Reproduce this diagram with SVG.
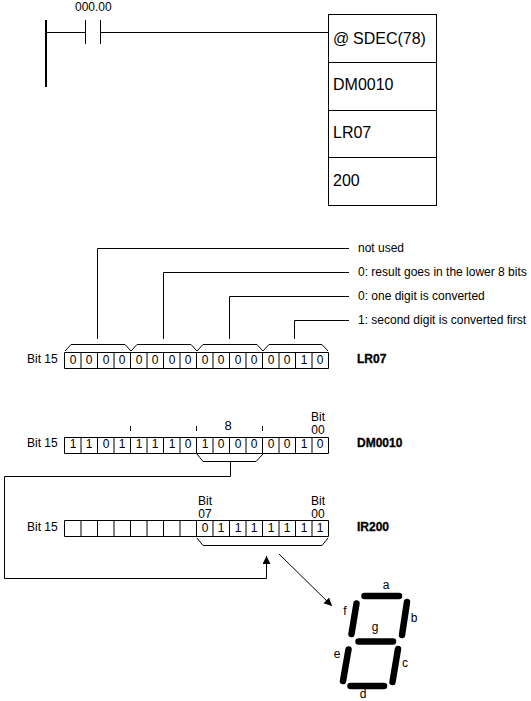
<svg xmlns="http://www.w3.org/2000/svg" width="531" height="701" viewBox="0 0 531 701">
<defs>
<style>
text{font-family:"Liberation Sans",Arial,sans-serif;fill:#000}
.l{fill:none;stroke:#000;stroke-width:1}
.t11{font-size:12px}
.t16{font-size:16px}
.b{font-size:12px;font-weight:bold;stroke:#000;stroke-width:.3px}
.c{font-size:12px;text-anchor:middle}
.m{text-anchor:middle}
.seg{stroke:#000;stroke-width:6.500;stroke-linecap:round;fill:none}
</style>
<marker id="ah" markerUnits="userSpaceOnUse" markerWidth="10" markerHeight="10" refX="8" refY="4" orient="auto"><path d="M0,0L8,4L0,8z" fill="#000"/></marker>
<path id="cells" d="M64.5,.5H328.5V16.5H64.5ZM81,.5V16.5M97.5,.5V16.5M114,.5V16.5M130.5,.5V16.5M147,.5V16.5M163.5,.5V16.5M180,.5V16.5M196.5,.5V16.5M213,.5V16.5M229.5,.5V16.5M246,.5V16.5M262.5,.5V16.5M279,.5V16.5M295.5,.5V16.5M312,.5V16.5" fill="#fff" stroke="#000"/>
</defs>
<rect width="531" height="701" fill="#fff"/>
<g id="connectors">
<path class="l" d="M46,32.500H85.500M100.500,32.500H328"/>
<path class="l" d="M97.500,339V248.500H349M163.500,339V272.500H349M229.500,339V296.500H349M294.500,339V320.500H349"/>
<path class="l" d="M230.500,461V476.500H4.500V578.500H266.500V556" marker-end="url(#ah)"/>
<path class="l" d="M279,554L332,606" marker-end="url(#ah)"/>
</g>
<g id="rung"><rect x="45" y="20" width="2" height="67" fill="#000"/></g>
<g id="contact"><path class="l" d="M85.500,20V44M100.500,20V44"/><text class="t11" x="75" y="11">000.00</text></g>
<g id="instruction">
<rect class="l" x="328.500" y="14.500" width="108" height="191"/>
<path class="l" d="M328,62.500H437M328,110.500H437M328,157.500H437"/>
<text class="t16" x="333" y="44">@</text><text class="t16" x="353" y="44">SDEC(78)</text>
<text class="t16" x="333" y="90">DM0010</text>
<text class="t16" x="333" y="138">LR07</text>
<text class="t16" x="333" y="186">200</text>
</g>
<g id="lr07">
<text class="t11" x="358" y="252">not used</text>
<text class="t11" x="358" y="276">0: result goes in the lower 8 bits</text>
<text class="t11" x="358" y="300">0: one digit is converted</text>
<text class="t11" x="358" y="324">1: second digit is converted first</text>
<path class="l" d="M65,351L71,344.500H125L131,351L137,344.500H191L197,351L203,344.500H257L263,351L269,344.500H322L328,351"/>
<use href="#cells" y="352"/>
<text class="t11" x="27" y="363">Bit 15</text>
<g class="c"><text x="73" y="364">0</text><text x="89" y="364">0</text><text x="106" y="364">0</text><text x="122" y="364">0</text><text x="139" y="364">0</text><text x="155" y="364">0</text><text x="172" y="364">0</text><text x="188" y="364">0</text><text x="205" y="364">0</text><text x="221" y="364">0</text><text x="238" y="364">0</text><text x="254" y="364">0</text><text x="271" y="364">0</text><text x="287" y="364">0</text><text x="304" y="364">1</text><text x="320" y="364">0</text></g>
<text class="b" x="357" y="363">LR07</text>
</g>
<g id="dm0010">
<path class="l" d="M130.500,426V431M196.500,426V431M262.500,426V431"/>
<text class="t11 m" x="228" y="430" style="font-size:13px">8</text>
<text class="t11 m" x="318" y="421">Bit</text><text class="t11 m" x="318" y="434">00</text>
<use href="#cells" y="437"/>
<text class="t11" x="27" y="447">Bit 15</text>
<g class="c"><text x="73" y="448">1</text><text x="89" y="448">1</text><text x="106" y="448">0</text><text x="122" y="448">1</text><text x="139" y="448">1</text><text x="155" y="448">1</text><text x="172" y="448">1</text><text x="188" y="448">0</text><text x="205" y="448">1</text><text x="221" y="448">0</text><text x="238" y="448">0</text><text x="254" y="448">0</text><text x="271" y="448">0</text><text x="287" y="448">0</text><text x="304" y="448">1</text><text x="320" y="448">0</text></g>
<path class="l" d="M197,454L203,461.500H256L263,454"/>
<text class="b" x="357" y="447">DM0010</text>
</g>
<g id="ir200">
<text class="t11 m" x="205" y="505">Bit</text><text class="t11 m" x="205" y="518">07</text>
<text class="t11 m" x="318" y="505">Bit</text><text class="t11 m" x="318" y="518">00</text>
<use href="#cells" y="520"/>
<text class="t11" x="27" y="531">Bit 15</text>
<g class="c"><text x="205" y="532">0</text><text x="221" y="532">1</text><text x="238" y="532">1</text><text x="254" y="532">1</text><text x="271" y="532">1</text><text x="287" y="532">1</text><text x="304" y="532">1</text><text x="320" y="532">1</text></g>
<path class="l" d="M197,538L203,545.500H322L328,538"/>
<text class="b" x="357" y="531">IR200</text>
</g>
<g id="display">
<path class="seg" d="M364.500,596H399M407,602L402,635M356.500,603.500L351.500,634M358.500,641.500H393M348.500,649.500L343,681M398,649L392.500,682M350.500,686H384"/>
<g class="c"><text x="386" y="589">a</text><text x="414" y="622">b</text><text x="405" y="667">c</text><text x="363" y="698">d</text><text x="337" y="658">e</text><text x="345" y="615">f</text><text x="375" y="631">g</text></g>
</g>
</svg>
